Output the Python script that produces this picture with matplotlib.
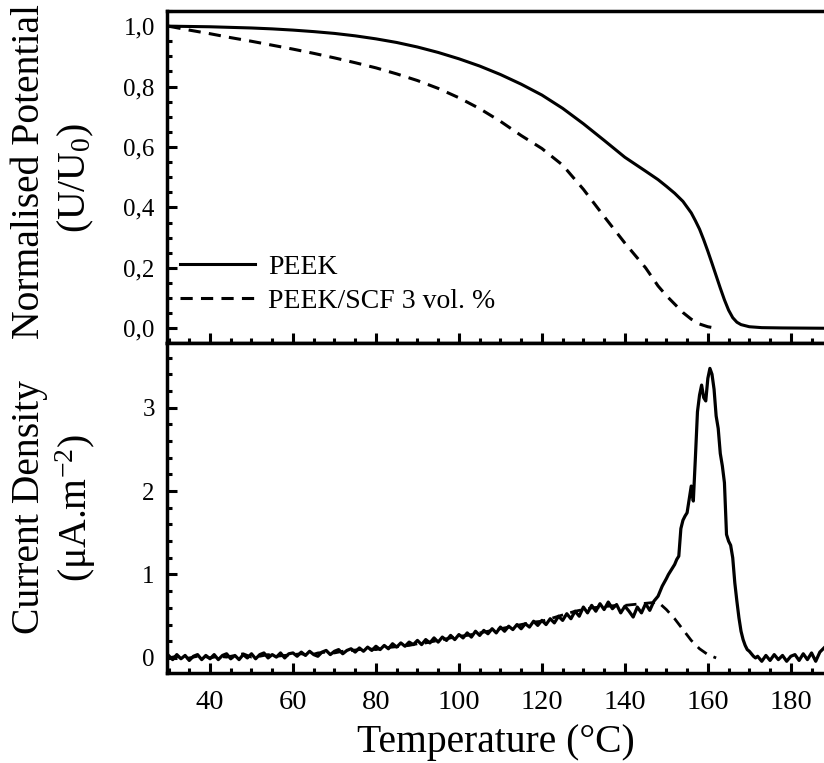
import numpy as np
import matplotlib
matplotlib.use("Agg")
import matplotlib.pyplot as plt
from matplotlib.ticker import MultipleLocator, FuncFormatter

plt.rcParams['font.family'] = ['Liberation Serif', 'DejaVu Serif']
plt.rcParams['mathtext.fontset'] = 'custom'
plt.rcParams['mathtext.rm'] = 'Liberation Serif'
plt.rcParams['mathtext.it'] = 'Liberation Serif:italic'

# --- top panel: normalised potential U/U0 ---
temp_u_peek = [30, 35, 40, 45, 50, 55, 60, 65, 70, 75, 80, 85, 90, 95, 100, 105, 110, 115, 120, 125,
               130, 135, 140, 145, 148, 150, 152, 154, 156, 157, 158, 159, 160, 161, 162, 163, 164,
               165, 166, 167, 168, 170, 173, 178, 188]
u_peek = [1.000, 0.999, 0.998, 0.996, 0.994, 0.991, 0.987, 0.982, 0.976, 0.968, 0.958, 0.946, 0.931,
          0.913, 0.892, 0.868, 0.840, 0.808, 0.772, 0.728, 0.677, 0.622, 0.566, 0.520, 0.492, 0.470,
          0.447, 0.420, 0.382, 0.356, 0.328, 0.293, 0.255, 0.215, 0.174, 0.133, 0.094, 0.060, 0.035,
          0.020, 0.012, 0.005, 0.002, 0.001, 0.000]

temp_u_scf = [30, 35, 40, 45, 50, 55, 60, 65, 70, 75, 80, 85, 90, 95, 100, 105, 110, 115, 120, 125,
              130, 135, 140, 145, 148, 150, 152, 154, 156, 158, 160, 162]
u_scf = [1.000, 0.987, 0.975, 0.962, 0.950, 0.937, 0.924, 0.910, 0.895, 0.879, 0.862, 0.842, 0.820,
         0.794, 0.763, 0.727, 0.685, 0.638, 0.595, 0.540, 0.460, 0.370, 0.282, 0.200, 0.140, 0.108,
         0.080, 0.052, 0.030, 0.014, 0.005, 0.000]

# --- bottom panel: current density (uA/m^2) ---
temp_i_peek = np.concatenate([np.arange(30, 150, 1.0), np.arange(150, 172, 0.5), np.arange(172, 189, 1.0)])
i_peek = [
    # 30-59
    0.03, -0.02, 0.04, -0.01, 0.03, -0.03, 0.02, 0.04, -0.02, 0.03,
    -0.01, 0.04, -0.02, 0.03, 0.05, -0.01, 0.03, -0.02, 0.04, 0.00,
    0.05, -0.01, 0.04, 0.06, 0.00, 0.04, 0.01, 0.06, 0.00, 0.05,
    # 60-89
    0.06, 0.02, 0.07, 0.03, 0.08, 0.04, 0.02, 0.07, 0.09, 0.04,
    0.08, 0.10, 0.05, 0.09, 0.11, 0.07, 0.12, 0.08, 0.13, 0.09,
    0.14, 0.10, 0.15, 0.11, 0.17, 0.13, 0.18, 0.14, 0.19, 0.16,
    # 90-119
    0.21, 0.16, 0.22, 0.18, 0.24, 0.19, 0.25, 0.21, 0.27, 0.22,
    0.28, 0.24, 0.30, 0.25, 0.32, 0.27, 0.33, 0.29, 0.35, 0.30,
    0.37, 0.32, 0.38, 0.34, 0.40, 0.35, 0.41, 0.37, 0.44, 0.39,
    # 120-149
    0.45, 0.40, 0.47, 0.42, 0.50, 0.45, 0.53, 0.47, 0.56, 0.50,
    0.61, 0.54, 0.63, 0.56, 0.65, 0.58, 0.67, 0.59, 0.64, 0.54,
    0.62, 0.56, 0.49, 0.61, 0.54, 0.65, 0.57, 0.68, 0.74, 0.86,
    # 150-171.5 (half degree)
    0.95, 1.00, 1.04, 1.08, 1.12, 1.18, 1.22, 1.55, 1.65, 1.70,
    1.74, 1.90, 2.06, 1.88, 2.40, 2.95, 3.15, 3.27, 3.12, 3.08,
    3.35, 3.47, 3.40, 3.22, 2.90, 2.75, 2.45, 2.30, 2.10, 1.48,
    1.40, 1.35, 1.20, 0.90, 0.68, 0.48, 0.32, 0.22, 0.15, 0.10,
    0.08, 0.05, 0.02, 0.00,
    # 172-188
    0.02, -0.04, 0.03, -0.03, 0.04, -0.02, 0.03, -0.04, 0.02, 0.04,
    -0.03, 0.05, -0.02, 0.06, -0.04, 0.07, 0.12,
]

temp_i_scf = list(range(30, 150, 2)) + [150, 152, 154, 156, 158, 160, 162]
i_scf = [
    0.00, 0.02, -0.01, 0.01, 0.03, 0.00, 0.02, 0.01, 0.03, 0.05, 0.01, 0.02, 0.04, 0.02, 0.03,
    0.04, 0.05, 0.03, 0.06, 0.07, 0.06, 0.08, 0.09, 0.10, 0.11, 0.10, 0.12, 0.13, 0.14, 0.15,
    0.17, 0.18, 0.20, 0.22, 0.24, 0.26, 0.27, 0.29, 0.31, 0.33, 0.35, 0.37, 0.39, 0.41, 0.43,
    0.44, 0.47, 0.50, 0.53, 0.56, 0.58, 0.60, 0.61, 0.62, 0.63, 0.63, 0.64, 0.65, 0.66, 0.67,
    0.58, 0.47, 0.34, 0.21, 0.11, 0.04, 0.00,
]

x_ticks = [40, 60, 80, 100, 120, 140, 160, 180]
dash = (0, (4, 2.7))

fig = plt.figure(figsize=(8.24, 7.63), dpi=100)
ax1 = fig.add_axes([0.203, 0.550, 0.797, 0.4355])
ax2 = fig.add_axes([0.203, 0.118, 0.797, 0.432], sharex=ax1)

ax1.plot(temp_u_peek, u_peek, color='black', lw=2.2, label='PEEK')
ax1.plot(temp_u_scf, u_scf, color='black', lw=2.2, linestyle=dash, label='PEEK/SCF 3 vol. %')
ax2.plot(temp_i_peek, i_peek, color='black', lw=2.3)
ax2.plot(temp_i_scf, i_scf, color='black', lw=2.0, linestyle=dash)

ax1.set_xlim(29.7, 188)
ax1.set_ylim(-0.05, 1.05)
ax2.set_ylim(-0.18, 3.77)

ax1.yaxis.set_major_locator(MultipleLocator(0.2))
ax1.yaxis.set_minor_locator(MultipleLocator(0.05))
ax1.yaxis.set_major_formatter(FuncFormatter(lambda v, p: f"{abs(v):.1f}".replace('.', ',')))
ax2.yaxis.set_major_locator(MultipleLocator(1))
ax2.yaxis.set_minor_locator(MultipleLocator(0.2))
ax2.set_xticks(x_ticks)
ax2.xaxis.set_minor_locator(MultipleLocator(5))

for ax in (ax1, ax2):
    ax.spines['right'].set_visible(False)
    for s in ('left', 'top', 'bottom'):
        ax.spines[s].set_linewidth(2.5)
    ax.tick_params(which='both', direction='in', top=False, right=False, width=2.2)
    ax.tick_params(which='major', length=7)
    ax.tick_params(which='minor', length=3.8)
    ax.tick_params(axis='y', labelsize=18, pad=9)
ax1.tick_params(axis='x', labelbottom=False)
ax2.tick_params(axis='x', labelsize=20.5, pad=12)

ax2.set_xlabel('Temperature (°C)', fontsize=28.5, labelpad=7)

# two-line y labels
fig.text(0.0362, 0.7746, 'Normalised Potential', rotation=90, ha='center', va='center', fontsize=28.5)
fig.text(0.0920, 0.767, '(U/U$_0$)', rotation=90, ha='center', va='center', fontsize=28.5)
fig.text(0.0362, 0.336, 'Current Density', rotation=90, ha='center', va='center', fontsize=28.5)
fig.text(0.0920, 0.334, '(μA.m$^{-2}$)', rotation=90, ha='center', va='center', fontsize=28.5)

ax1.legend(loc='center left', bbox_to_anchor=(0.0193, 0.178), frameon=False, fontsize=20,
           handlelength=2.7, handletextpad=0.47, labelspacing=0.3, borderpad=0, borderaxespad=0)

fig.savefig('out.png', dpi=100)
